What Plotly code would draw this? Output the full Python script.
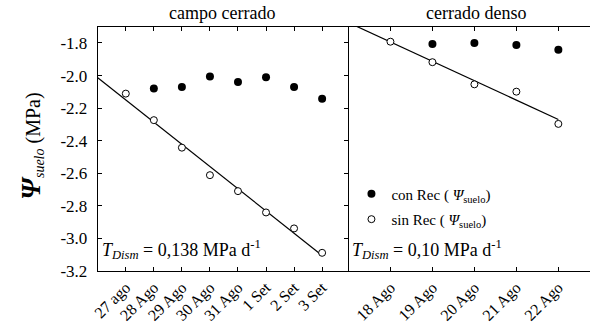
import numpy as np
import plotly.graph_objects as go

# ---- data ----
dates_cc = ["27 ago", "28 Ago", "29 Ago", "30 Ago", "31 Ago", "1 Set", "2 Set", "3 Set"]
con_cc = [None, -2.08, -2.07, -2.006, -2.04, -2.01, -2.07, -2.142]
sin_cc = [-2.111, -2.274, -2.443, -2.612, -2.71, -2.841, -2.939, -3.089]

dates_cd = ["18 Ago", "19 Ago", "20 Ago", "21 Ago", "22 Ago"]
con_cd = [None, -1.806, -1.80, -1.812, -1.841]
sin_cd = [-1.792, -1.918, -2.054, -2.099, -2.297]

yticks = [-3.2, -3.0, -2.8, -2.6, -2.4, -2.2, -2.0, -1.8]

FONT = "Times New Roman, Liberation Serif, serif"
W, H = 590, 325

def px(x):
    return x / W

def py(y):
    return 1 - y / H

fig = go.Figure()

xi_cc = list(range(len(dates_cc)))
xi_cd = list(range(len(dates_cd)))

# regressions
s1, b1 = np.polyfit(xi_cc, sin_cc, 1)
s2, b2 = np.polyfit(xi_cd, sin_cd, 1)
lx1 = [-1, xi_cc[-1]]
lx2 = [-1, xi_cd[-1]]

fig.add_trace(go.Scatter(x=lx1, y=[s1 * v + b1 for v in lx1], mode="lines",
                         line=dict(color="black", width=1.2), showlegend=False,
                         xaxis="x", yaxis="y"))
fig.add_trace(go.Scatter(x=lx2, y=[s2 * v + b2 for v in lx2], mode="lines",
                         line=dict(color="black", width=1.2), showlegend=False,
                         xaxis="x2", yaxis="y2"))

fig.add_trace(go.Scatter(x=xi_cc, y=con_cc, mode="markers",
                         marker=dict(symbol="circle", size=8, color="black"),
                         legendgroup="con",
                         name="con Rec ( <i>Ψ</i><sub>suelo</sub>)", xaxis="x", yaxis="y"))
fig.add_trace(go.Scatter(x=xi_cc, y=sin_cc, mode="markers",
                         marker=dict(symbol="circle", size=7, color="white",
                                     line=dict(color="black", width=1)),
                         legendgroup="sin",
                         name="sin Rec ( <i>Ψ</i><sub>suelo</sub>)", xaxis="x", yaxis="y"))
fig.add_trace(go.Scatter(x=xi_cd, y=con_cd, mode="markers",
                         marker=dict(symbol="circle", size=8, color="black"),
                         legendgroup="con",
                         showlegend=False, xaxis="x2", yaxis="y2"))
fig.add_trace(go.Scatter(x=xi_cd, y=sin_cd, mode="markers",
                         marker=dict(symbol="circle", size=7, color="white",
                                     line=dict(color="black", width=1)),
                         legendgroup="sin",
                         showlegend=False, xaxis="x2", yaxis="y2"))

ydom = [py(284), py(28)]
common_x = dict(showline=True, linecolor="black", linewidth=1, mirror="ticks",
                ticks="inside", ticklen=4, tickcolor="black", tickangle=-45,
                tickfont=dict(family=FONT, size=16, color="black"),
                showgrid=False, zeroline=False)

fig.update_layout(
    width=W, height=H,
    margin=dict(l=0, r=0, t=0, b=0),
    paper_bgcolor="white", plot_bgcolor="white",
    font=dict(family=FONT, color="black", size=15),
    xaxis=dict(domain=[px(92.7), px(346)], range=[-1, 7.94], anchor="y",
               tickvals=xi_cc, ticktext=dates_cc, **common_x),
    xaxis2=dict(domain=[px(346), 1], range=[-1, 4.754], anchor="y2",
                tickvals=xi_cd, ticktext=dates_cd, **common_x),
    yaxis=dict(domain=ydom, range=[-3.2, -1.7], anchor="x",
               showline=True, linecolor="black", linewidth=1, mirror="ticks",
               ticks="inside", ticklen=4, tickcolor="black",
               tickvals=yticks, ticktext=[f"{v:.1f}" for v in yticks],
               tickfont=dict(family=FONT, size=17, color="black"),
               ticklabelstandoff=6,
               showgrid=False, zeroline=False),
    yaxis2=dict(domain=ydom, range=[-3.2, -1.7], anchor="x2",
                showline=False, ticks="", showticklabels=False,
                showgrid=False, zeroline=False),
    legend=dict(x=px(349), y=py(186), xanchor="left", yanchor="top",
                bgcolor="rgba(0,0,0,0)", font=dict(family=FONT, size=15, color="black"),
                itemwidth=30, tracegroupgap=3),
)

annots = [
    dict(text="campo cerrado", x=px(218), y=py(26), xanchor="center", yanchor="bottom",
         font=dict(size=18)),
    dict(text="cerrado denso", x=px(474.5), y=py(26), xanchor="center", yanchor="bottom",
         font=dict(size=18)),
    dict(text="<i>T</i><sub><i>Dism</i></sub> = 0,138 MPa d<sup>-1</sup>", x=px(95), y=py(262),
         xanchor="left", yanchor="middle", font=dict(size=18)),
    dict(text="<i>T</i><sub><i>Dism</i></sub> = 0,10 MPa d<sup>-1</sup>", x=px(348), y=py(262),
         xanchor="left", yanchor="middle", font=dict(size=18)),
    dict(text="<span style='font-size:27px'><b><i>Ψ</i></b></span><sub><i>suelo</i></sub> (MPa)",
         x=px(26), y=py(153), xanchor="center", yanchor="middle", textangle=-90,
         font=dict(size=20)),
]
for a in annots:
    a.update(xref="paper", yref="paper", showarrow=False)
    a["font"].update(family=FONT, color="black")
fig.update_layout(annotations=annots)

fig.write_html("out.html")
